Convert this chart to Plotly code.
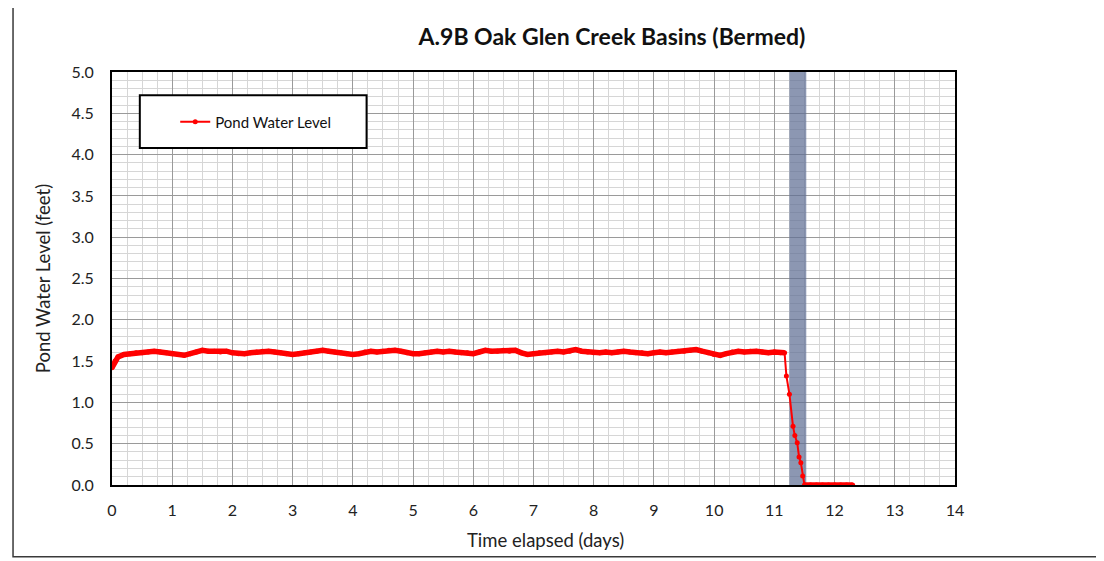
import plotly.graph_objects as go

# Pond water level readings (days elapsed, feet)
days = [
    0.0, 0.05, 0.1, 0.2, 0.3, 0.4, 0.5, 0.6, 0.7, 0.8, 0.9,
    1.0, 1.1, 1.2, 1.3, 1.4, 1.5, 1.6, 1.7, 1.8, 1.9,
    2.0, 2.1, 2.2, 2.3, 2.4, 2.5, 2.6, 2.7, 2.8, 2.9,
    3.0, 3.1, 3.2, 3.3, 3.4, 3.5, 3.6, 3.7, 3.8, 3.9,
    4.0, 4.1, 4.2, 4.3, 4.4, 4.5, 4.6, 4.7, 4.8, 4.9,
    5.0, 5.1, 5.2, 5.3, 5.4, 5.5, 5.6, 5.7, 5.8, 5.9,
    6.0, 6.1, 6.2, 6.3, 6.4, 6.5, 6.6, 6.7, 6.8, 6.9,
    7.0, 7.1, 7.2, 7.3, 7.4, 7.5, 7.6, 7.7, 7.8, 7.9,
    8.0, 8.1, 8.2, 8.3, 8.4, 8.5, 8.6, 8.7, 8.8, 8.9,
    9.0, 9.1, 9.2, 9.3, 9.4, 9.5, 9.6, 9.7, 9.8, 9.9,
    10.0, 10.1, 10.2, 10.3, 10.4, 10.5, 10.6, 10.7, 10.8, 10.9,
    11.0, 11.1, 11.17,
    11.2, 11.25, 11.31, 11.34, 11.38, 11.41, 11.44, 11.47, 11.5,
    11.6, 11.7, 11.8, 11.9, 12.0, 12.1, 12.2, 12.3,
]
level_ft = [
    1.42, 1.50, 1.55, 1.58, 1.59, 1.60, 1.60, 1.61, 1.62, 1.61, 1.60,
    1.59, 1.58, 1.57, 1.59, 1.61, 1.63, 1.62, 1.62, 1.61, 1.62,
    1.60, 1.59, 1.59, 1.60, 1.61, 1.62, 1.62, 1.61, 1.60, 1.59,
    1.58, 1.59, 1.60, 1.61, 1.62, 1.63, 1.62, 1.61, 1.60, 1.59,
    1.58, 1.59, 1.61, 1.62, 1.61, 1.62, 1.63, 1.63, 1.62, 1.60,
    1.59, 1.59, 1.60, 1.61, 1.62, 1.61, 1.62, 1.61, 1.60, 1.60,
    1.59, 1.61, 1.63, 1.62, 1.62, 1.63, 1.62, 1.63, 1.60, 1.58,
    1.59, 1.60, 1.60, 1.61, 1.62, 1.61, 1.62, 1.64, 1.62, 1.61,
    1.60, 1.60, 1.61, 1.60, 1.61, 1.62, 1.61, 1.60, 1.60, 1.59,
    1.60, 1.61, 1.60, 1.61, 1.62, 1.62, 1.63, 1.64, 1.62, 1.60,
    1.58, 1.57, 1.59, 1.61, 1.62, 1.61, 1.62, 1.62, 1.61, 1.60,
    1.61, 1.60, 1.60,
    1.32, 1.10, 0.71, 0.60, 0.51, 0.34, 0.27, 0.11, 0.0,
    0.0, 0.0, 0.0, 0.0, 0.0, 0.0, 0.0, 0.0,
]
n_flat = 114       # readings before the drawdown starts
n_drop_end = 122   # index of first zero reading

# shaded drawdown window
band_start, band_end = 11.25, 11.53
y_top = 5.0

fig = go.Figure()
# shaded window as a bar so it sits above the grid but under the line
fig.add_trace(go.Bar(
    x=[(band_start + band_end) / 2], y=[y_top], width=[band_end - band_start],
    marker=dict(color="rgba(96,111,148,0.72)", line_width=0),
    showlegend=False, hoverinfo="skip",
))
fig.add_trace(go.Scatter(
    x=days, y=level_ft,
    mode="lines+markers",
    name="Pond Water Level",
    line=dict(color="#FF0000", width=2),
    marker=dict(color="#FF0000", size=5),
))
# dense logger readings render as a thick band in the original
for sl in (slice(0, n_flat), slice(n_drop_end, None)):
    fig.add_trace(go.Scatter(
        x=days[sl], y=level_ft[sl],
        mode="lines", showlegend=False, hoverinfo="skip",
        line=dict(color="#FF0000", width=5.5),
    ))

# outer chart frame
fig.add_shape(
    type="rect", xref="paper", yref="paper",
    x0=-0.1174, x1=1.2, y0=-0.174, y1=1.162,
    line=dict(color="#3a3a3a", width=1.5), layer="below",
)

# legend box
fig.add_shape(
    type="rect", xref="paper", yref="paper",
    x0=0.033, x1=0.302, y0=0.816, y1=0.944,
    line=dict(color="black", width=2), fillcolor="white", layer="above",
)

fig.add_annotation(
    text="Time elapsed (days)", xref="paper", yref="paper",
    x=0.514, y=-0.133, xanchor="center", yanchor="middle",
    showarrow=False, font=dict(size=18.5, color="#222"),
)

font = "Lato, 'Open Sans', sans-serif"
# page has an 8px body margin, so the figure is 8px smaller than the window
W, H = 1096, 553
fig.update_layout(
    width=W, height=H,
    margin=dict(l=104, r=149, t=64, b=76, autoexpand=False),
    paper_bgcolor="white",
    plot_bgcolor="white",
    font=dict(family=font, size=16, color="#222"),
    title=dict(
        text="<b>A.9B Oak Glen Creek Basins (Bermed)</b>",
        x=604 / W, xanchor="center", y=1 - 29 / H, yanchor="middle",
        font=dict(size=23, color="#111"),
    ),
    showlegend=True,
    legend=dict(
        x=0.075, y=0.879, xanchor="left", yanchor="middle",
        bgcolor="rgba(0,0,0,0)", borderwidth=0,
        font=dict(size=15, color="#111"),
    ),
    xaxis=dict(
        range=[0, 14], dtick=1, tick0=0,
        showline=True, linecolor="black", linewidth=2, mirror=True,
        showgrid=True, gridcolor="#9a9a9a", gridwidth=1,
        minor=dict(dtick=0.25, showgrid=True, gridcolor="#d6d6d6", gridwidth=1),
        zeroline=False, ticks="", ticklabelstandoff=10,
    ),
    yaxis=dict(
        range=[0, 5], dtick=0.5, tick0=0, tickformat=".1f",
        showline=True, linecolor="black", linewidth=2, mirror=True,
        showgrid=True, gridcolor="#9a9a9a", gridwidth=1,
        minor=dict(dtick=0.1, showgrid=True, gridcolor="#d6d6d6", gridwidth=1),
        zeroline=False, ticks="", ticklabelstandoff=13,
        title=dict(text="Pond Water Level (feet)", standoff=16, font=dict(size=18.5)),
    ),
)

fig.write_html("out.html")
